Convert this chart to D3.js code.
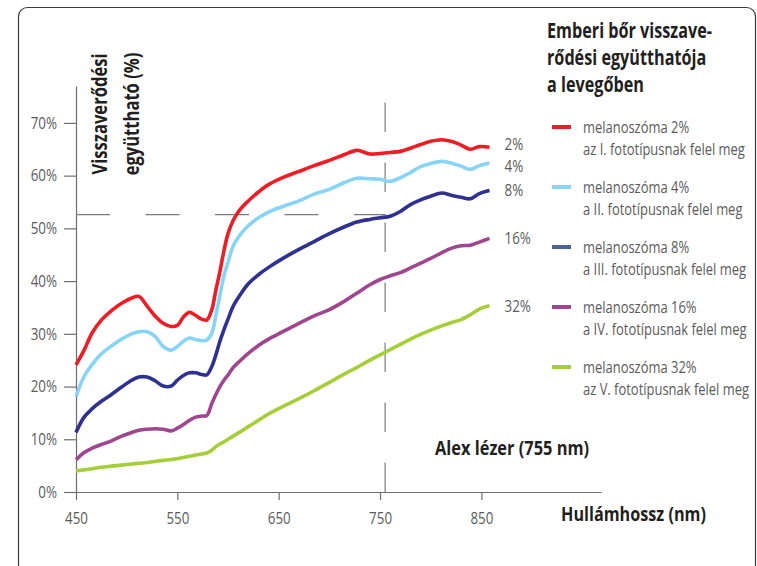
<!DOCTYPE html>
<html>
<head>
<meta charset="utf-8">
<script src="https://cdn.jsdelivr.net/npm/d3@7"></script>
<style>
  html, body { margin: 0; padding: 0; background: #fff; }
  svg { display: block; }
</style>
</head>
<body>
<svg id="chart" width="757" height="566"></svg>
<script>
// ---------------- DATA ----------------
const wavelengths = [450, 458, 466, 475, 485, 495, 505, 512, 520, 528, 536, 544, 550, 556, 562, 568, 574, 579, 584, 588, 592, 596, 600, 605, 612, 620, 630, 640, 655, 670, 685, 700, 715, 727, 740, 750, 760, 770, 780, 790, 800, 811, 820, 830, 839, 848, 858];

const melanin2 = [24.1, 26.9, 30.2, 32.6, 34.4, 35.8, 36.8, 37.1, 35.3, 33.4, 32.0, 31.4, 31.6, 33.2, 34.1, 33.5, 32.8, 32.6, 34.6, 38.3, 41.8, 45.8, 49.0, 51.5, 53.6, 55.2, 56.9, 58.3, 59.7, 60.8, 61.9, 62.9, 64.0, 64.8, 64.1, 64.2, 64.4, 64.6, 65.2, 65.9, 66.5, 66.8, 66.5, 65.8, 65.0, 65.5, 65.4];
const melanin4 = [18.1, 21.9, 24.2, 26.2, 27.7, 29.0, 30.0, 30.4, 30.4, 29.5, 27.6, 26.9, 27.6, 28.6, 29.2, 28.9, 28.7, 28.8, 30.1, 33.5, 37.3, 41.0, 43.6, 46.6, 48.8, 50.5, 52.0, 53.1, 54.2, 55.2, 56.5, 57.4, 58.7, 59.5, 59.4, 59.3, 58.9, 59.6, 60.6, 61.7, 62.3, 62.7, 62.4, 61.8, 61.2, 61.9, 62.4];
const melanin8 = [11.3, 14.2, 15.8, 17.2, 18.5, 19.9, 21.2, 21.8, 21.8, 21.1, 20.1, 20.1, 21.2, 22.1, 22.6, 22.6, 22.3, 22.2, 23.8, 26.0, 28.6, 30.8, 32.8, 35.2, 37.4, 39.5, 41.2, 42.6, 44.4, 46.0, 47.5, 49.0, 50.3, 51.2, 51.7, 52.0, 52.3, 53.2, 54.5, 55.4, 56.1, 56.7, 56.3, 55.9, 55.6, 56.6, 57.2];
const melanin16 = [6.1, 7.5, 8.3, 9.0, 9.7, 10.6, 11.3, 11.7, 11.9, 12.0, 11.9, 11.6, 12.1, 12.8, 13.6, 14.2, 14.4, 14.5, 16.8, 18.5, 20.0, 21.2, 22.2, 23.6, 24.9, 26.3, 27.8, 29.0, 30.5, 32.0, 33.4, 34.6, 36.2, 37.7, 39.3, 40.3, 41.0, 41.6, 42.5, 43.4, 44.3, 45.4, 46.2, 46.7, 46.8, 47.4, 48.1];
const melanin32 = [4.0, 4.2, 4.4, 4.7, 4.9, 5.1, 5.3, 5.45, 5.6, 5.8, 6.0, 6.15, 6.35, 6.55, 6.8, 7.0, 7.2, 7.4, 7.9, 8.6, 9.1, 9.5, 10.0, 10.6, 11.4, 12.4, 13.6, 14.8, 16.3, 17.7, 19.2, 20.8, 22.4, 23.6, 25.0, 26.0, 27.0, 28.0, 29.0, 29.9, 30.7, 31.5, 32.1, 32.7, 33.6, 34.7, 35.3];

const seriesNames = ["2%", "4%", "8%", "16%", "32%"];
const seriesValues = [melanin2, melanin4, melanin8, melanin16, melanin32];
const legendLine1 = ["melanoszóma 2%", "melanoszóma 4%", "melanoszóma 8%", "melanoszóma 16%", "melanoszóma 32%"];
const legendLine2 = ["az I. fototípusnak felel meg", "a II. fototípusnak felel meg", "a III. fototípusnak felel meg", "a IV. fototípusnak felel meg", "az V. fototípusnak felel meg"];

const xTicks = [450, 550, 650, 750, 850];
const yTicks = [0, 10, 20, 30, 40, 50, 60, 70];

const laserWavelength = 755;
const referenceLevel = 52.6;

const titleLines = ["Emberi bőr visszave-", "rődési együtthatója", "a levegőben"];
const yTitleLines = ["Visszaverődési", "együttható (%)"];
const xTitle = "Hullámhossz (nm)";
const laserLabel = "Alex lézer (755 nm)";

// ---------------- STYLE ----------------
const lineColors = ["#ee1c25", "#87d4f6", "#2e3192", "#a0468e", "#a6ce39"];
const swatchColors = ["#ee1c25", "#87d4f6", "#46649b", "#a0468e", "#a6ce39"];
const FONT = "'Open Sans', 'DejaVu Sans', sans-serif";
const axisColor = "#6e6e6e";
const textGray = "#5a5a5a";
const dark = "#231f20";
const K_REG = 0.81;   // horizontal condensing of regular text
const K_BOLD = 0.79;  // horizontal condensing of bold text

function condense(sel, k) {
  sel.each(function () {
    const L = this.getComputedTextLength();
    d3.select(this).attr("textLength", L * k).attr("lengthAdjust", "spacingAndGlyphs");
  });
}

// text placed with a transform so it is drawn narrower (condensed look)
function addText(parent, tx, ty, k, opts) {
  const rot = opts.rotate ? ` rotate(${opts.rotate})` : "";
  return parent.append("text")
    .attr("transform", `translate(${tx},${ty})${rot} scale(${k},1)`)
    .attr("x", 0).attr("y", 0)
    .attr("dy", opts.dy || null)
    .attr("text-anchor", opts.anchor || "start")
    .attr("fill", opts.fill)
    .attr("font-family", FONT)
    .attr("font-weight", opts.bold ? "bold" : "normal")
    .attr("font-size", opts.size)
    .text(opts.text);
}

// ---------------- SCALES ----------------
const svg = d3.select("#chart");

const x = d3.scaleLinear().domain([450, 968]).range([76, 601]);
const y = d3.scaleLinear().domain([0, 77]).range([492, 86]);

// frame
svg.append("rect")
  .attr("x", 18.5).attr("y", 7.5)
  .attr("width", 737).attr("height", 566)
  .attr("rx", 9).attr("ry", 9)
  .attr("fill", "none").attr("stroke", "#3a3a3a").attr("stroke-width", 1.2);

// axes
const yAxis = d3.axisLeft(y).tickValues(yTicks).tickFormat(d => d + "%")
  .tickSize(12).tickSizeOuter(0).tickPadding(7);
const gy = svg.append("g").attr("transform", `translate(${x(450)},0)`).call(yAxis);

const xAxis = d3.axisBottom(x).tickValues(xTicks).tickFormat(d3.format("d"))
  .tickSize(8).tickSizeOuter(0).tickPadding(12);
const gx = svg.append("g").attr("transform", `translate(0,${y(0)})`).call(xAxis);

[gx, gy].forEach(g => {
  g.select(".domain").attr("stroke", axisColor).attr("stroke-width", 1.2);
  g.selectAll(".tick line").attr("stroke", axisColor).attr("stroke-width", 1.2);
  g.selectAll(".tick text").attr("fill", textGray).attr("font-family", FONT).attr("font-size", 16.5);
  condense(g.selectAll(".tick text"), K_REG);
});

// dashed reference lines
svg.append("line")
  .attr("x1", x(450)).attr("x2", x(laserWavelength) + 0.5)
  .attr("y1", y(referenceLevel)).attr("y2", y(referenceLevel))
  .attr("stroke", "#7a7a7a").attr("stroke-width", 1.2)
  .attr("stroke-dasharray", "34 35.5");

svg.append("line")
  .attr("x1", x(laserWavelength)).attr("x2", x(laserWavelength))
  .attr("y1", y(0)).attr("y2", y(74.5))
  .attr("stroke", "#7a7a7a").attr("stroke-width", 1.2)
  .attr("stroke-dasharray", "29.5 30.5");

// lines
const line = d3.line()
  .x((d, i) => x(wavelengths[i]))
  .y(d => y(d))
  .curve(d3.curveCatmullRom.alpha(0.5));

seriesValues.forEach((vals, k) => {
  svg.append("path")
    .attr("d", line(vals))
    .attr("fill", "none")
    .attr("stroke", lineColors[k])
    .attr("stroke-width", 3.6)
    .attr("stroke-linejoin", "round")
    .attr("stroke-linecap", "butt");
});

// end labels (pushed apart where they would collide)
const lastW = wavelengths[wavelengths.length - 1];
const labelY = seriesValues.map(v => y(v[v.length - 1]));
const minGap = 22;
for (let i = 1; i < labelY.length; i++) {
  const gap = labelY[i] - labelY[i - 1];
  if (gap < minGap) {
    const push = (minGap - gap) / 2;
    labelY[i - 1] -= push;
    labelY[i] += push;
  }
}
seriesValues.forEach((vals, k) => {
  addText(svg, x(lastW) + 15, labelY[k], K_REG,
    { text: seriesNames[k], size: 16.5, fill: textGray, dy: "0.35em" });
});

// y title (two rotated lines)
yTitleLines.forEach((t, i) => {
  addText(svg, 107 + i * 32, 114, K_BOLD,
    { text: t, size: 21, fill: dark, bold: true, anchor: "middle", rotate: -90 });
});

// x title
addText(svg, 561, 521, 0.81, { text: xTitle, size: 20, fill: dark, bold: true });

// laser label
addText(svg, 435, 455, 0.82, { text: laserLabel, size: 20, fill: dark, bold: true });

// legend title
titleLines.forEach((t, i) => {
  addText(svg, 547, 38 + i * 27, K_BOLD, { text: t, size: 20.5, fill: dark, bold: true });
});

// legend entries
const legend = svg.append("g");
seriesNames.forEach((n, k) => {
  const ly = 127 + k * 60;
  legend.append("line")
    .attr("x1", 552).attr("x2", 571).attr("y1", ly).attr("y2", ly)
    .attr("stroke", swatchColors[k]).attr("stroke-width", 4);
  addText(legend, 583, ly + 6, K_REG, { text: legendLine1[k], size: 16, fill: textGray });
  addText(legend, 583, ly + 28, K_REG, { text: legendLine2[k], size: 16, fill: textGray });
});
</script>
</body>
</html>
